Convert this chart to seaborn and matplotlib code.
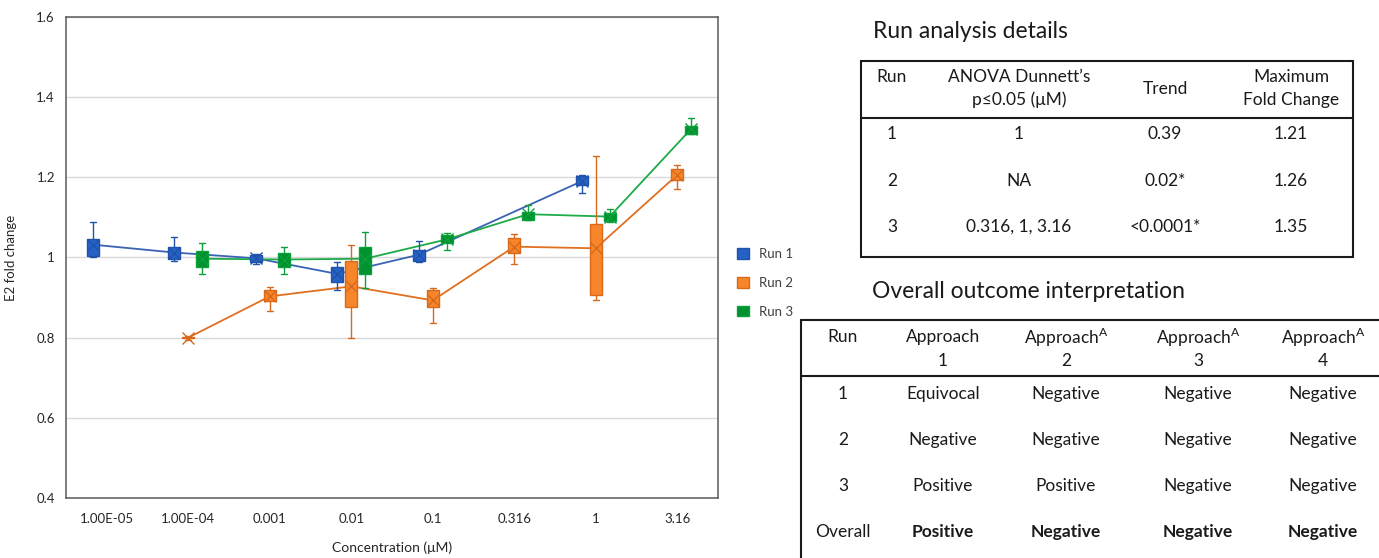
import matplotlib
matplotlib.use("Agg")
import matplotlib.pyplot as plt
from matplotlib.patches import Patch, Rectangle
import numpy as np
import pandas as pd
import seaborn as sns

# ---------------------------------------------------------------- data
concentrations = ["1.00E-05", "1.00E-04", "0.001", "0.01", "0.1", "0.316", "1", "3.16"]
runs = ["Run 1", "Run 2", "Run 3"]

# replicate fold changes per concentration (None = not tested in that run)
run1_values = [
    [1.000, 1.004, 1.022, 1.046, 1.088],
    [0.992, 0.996, 0.998, 1.026, 1.050],
    [0.983, 0.990, 1.004, 1.005, 1.008],
    [0.918, 0.940, 0.972, 0.976, 0.989],
    [0.990, 0.992, 0.994, 1.019, 1.040],
    None,
    [1.161, 1.180, 1.200, 1.204, 1.207],
    None,
]
run2_values = [
    None,
    [0.795, 0.798, 0.800, 0.802, 0.805],
    [0.866, 0.891, 0.912, 0.920, 0.926],
    [0.800, 0.877, 0.941, 0.992, 1.030],
    [0.837, 0.876, 0.908, 0.920, 0.924],
    [0.984, 1.011, 1.034, 1.048, 1.058],
    [0.893, 0.906, 0.980, 1.084, 1.252],
    [1.170, 1.193, 1.215, 1.222, 1.230],
]
run3_values = [
    None,
    [0.960, 0.976, 0.999, 1.015, 1.035],
    [0.960, 0.976, 1.000, 1.012, 1.027],
    [0.924, 0.959, 1.012, 1.027, 1.063],
    [1.019, 1.036, 1.052, 1.056, 1.062],
    [1.094, 1.094, 1.107, 1.114, 1.131],
    [1.089, 1.091, 1.098, 1.110, 1.122],
    [1.307, 1.307, 1.314, 1.329, 1.347],
]

fill_colors = {"Run 1": "#2462C6", "Run 2": "#F7862A", "Run 3": "#00922E"}
edge_colors = {"Run 1": "#1F52A8", "Run 2": "#D8691C", "Run 3": "#0BA03A"}
line_colors = {"Run 1": "#3A63B5", "Run 2": "#E0701F", "Run 3": "#1DAA48"}

# analysis tables
t1_header = [["Run", ""], ["ANOVA Dunnett\u2019s", "p\u22640.05 (\u03bcM)"], ["Trend", None], ["Maximum", "Fold Change"]]
t1_run = ["1", "2", "3"]
t1_anova = ["1", "NA", "0.316, 1, 3.16"]
t1_trend = ["0.39", "0.02*", "<0.0001*"]
t1_maxfc = ["1.21", "1.26", "1.35"]

t2_header = ["Run", "Approach", "Approach$^{\\mathrm{A}}$", "Approach$^{\\mathrm{A}}$", "Approach$^{\\mathrm{A}}$"]
t2_header2 = ["", "1", "2", "3", "4"]
t2_rows = [
    ["1", "Equivocal", "Negative", "Negative", "Negative"],
    ["2", "Negative", "Negative", "Negative", "Negative"],
    ["3", "Positive", "Positive", "Negative", "Negative"],
    ["Overall", "Positive", "Negative", "Negative", "Negative"],
]

# ---------------------------------------------------------------- frame
records = []
for run, values in zip(runs, [run1_values, run2_values, run3_values]):
    for conc, reps in zip(concentrations, values):
        if reps is None:
            continue
        for v in reps:
            records.append({"Concentration": conc, "Fold change": v, "Run": run})
df = pd.DataFrame(records)

# dodged x position of each run's box, used for the mean line
box_width = 0.51
offsets = {r: (i - 1) * box_width / 3 for i, r in enumerate(runs)}
df["xpos"] = df["Concentration"].map({c: i for i, c in enumerate(concentrations)}) + df["Run"].map(offsets)

sns.set_style("white")
plt.rcParams["font.family"] = ["Lato", "DejaVu Sans"]
plt.rcParams["mathtext.fontset"] = "custom"
plt.rcParams["mathtext.rm"] = "Lato"
plt.rcParams["text.color"] = "#1a1a1a"

W, H = 1379, 558
fig = plt.figure(figsize=(W / 100, H / 100), dpi=100)
ax = fig.add_axes([66 / W, 1 - 498 / H, (718 - 66) / W, (498 - 17) / H])

# boxes, one run at a time so each gets its own outline colour
for run in runs:
    sub = df[df["Run"] == run]
    ec = edge_colors[run]
    sns.boxplot(
        data=sub, x="Concentration", y="Fold change", hue="Run",
        order=concentrations, hue_order=runs, palette=fill_colors,
        saturation=1, dodge=True, width=box_width, gap=0.12, whis=(0, 100),
        linecolor=ec, linewidth=1.0, fliersize=0,
        showmeans=True,
        meanprops=dict(marker="x", markersize=9, markeredgecolor=ec,
                       markerfacecolor="none", markeredgewidth=1.0),
        medianprops=dict(linewidth=0),
        legend=False, ax=ax,
    )

# mean connecting lines; missing concentrations are simply skipped
sns.lineplot(
    data=df, x="xpos", y="Fold change", hue="Run", hue_order=runs,
    palette=line_colors, estimator="mean", errorbar=None,
    linewidth=1.3, legend=False, ax=ax, zorder=1.5,
)

ax.set_xlim(-0.5, len(concentrations) - 0.5)
ax.set_xticks(range(len(concentrations)))
ax.set_xticklabels(concentrations)
ax.set_ylim(0.4, 1.6)
yt = np.round(np.arange(0.4, 1.61, 0.2), 1)
ax.set_yticks(yt)
ax.set_yticklabels([f"{v:g}" for v in yt])
ax.yaxis.grid(True, color="#D9D9D9", linewidth=1.0)
ax.xaxis.grid(False)
ax.set_axisbelow(True)
ax.tick_params(axis="both", length=0, labelsize=9.5, colors="#262626", pad=8)
ax.tick_params(axis="x", pad=11)
for s in ax.spines.values():
    s.set_visible(True)
    s.set_color("#5a5a5a")
    s.set_linewidth(1.1)
ax.set_xlabel("Concentration (\u03bcM)", fontsize=10, color="#262626", labelpad=12)
ax.set_ylabel("E2 fold change", fontsize=9.5, color="#262626", labelpad=14)

fig.legend(
    handles=[Patch(facecolor=fill_colors[r], edgecolor=edge_colors[r], label=r) for r in runs],
    loc="center left", bbox_to_anchor=(725 / W, 1 - 283 / H), frameon=False,
    handlelength=0.9, handleheight=0.9, handletextpad=0.8, labelspacing=1.25,
    fontsize=9.5, labelcolor="#404040",
)

# ---------------------------------------------------------------- tables
tab = fig.add_axes([0, 0, 1, 1], zorder=-1)
tab.set_xlim(0, W)
tab.set_ylim(H, 0)
tab.axis("off")
lc = "#1a1a1a"
fs = 12.5
tfs = 16.5

tab.text(873, 32, "Run analysis details", fontsize=tfs, ha="left", va="center")
tab.add_patch(Rectangle((861, 61), 1353 - 861, 257 - 61, fill=False, edgecolor=lc, linewidth=1.5))
tab.plot([861, 1353], [118, 118], color=lc, linewidth=1.5)
t1_x = [892, 1019, 1165, 1291]
for x, (l1, l2) in zip(t1_x, t1_header):
    if l2 is None:
        tab.text(x, 89, l1, fontsize=fs, ha="center", va="center")
    else:
        tab.text(x, 77, l1, fontsize=fs, ha="center", va="center")
        tab.text(x, 100, l2, fontsize=fs, ha="center", va="center")
for i, row in enumerate(zip(t1_run, t1_anova, t1_trend, t1_maxfc)):
    y = 134 + i * 46.5
    for x, val in zip(t1_x, row):
        tab.text(x, y, val, fontsize=fs, ha="center", va="center")

tab.text(872, 291, "Overall outcome interpretation", fontsize=tfs, ha="left", va="center")
tab.plot([801, W], [320, 320], color=lc, linewidth=1.5)
tab.plot([801, 801], [320, H], color=lc, linewidth=1.5)
tab.plot([801, W], [376, 376], color=lc, linewidth=1.5)
t2_x = [843, 943, 1066, 1198, 1323]
for x, h1, h2 in zip(t2_x, t2_header, t2_header2):
    tab.text(x, 337, h1, fontsize=fs, ha="center", va="center")
    if h2:
        tab.text(x, 361, h2, fontsize=fs, ha="center", va="center")
for i, row in enumerate(t2_rows):
    y = 394 + i * 46
    for j, (x, val) in enumerate(zip(t2_x, row)):
        bold = (row[0] == "Overall") and j > 0
        tab.text(x, y, val, fontsize=fs, ha="center", va="center",
                 fontweight="bold" if bold else "normal")

fig.savefig("out.png", dpi=100, facecolor="white")
